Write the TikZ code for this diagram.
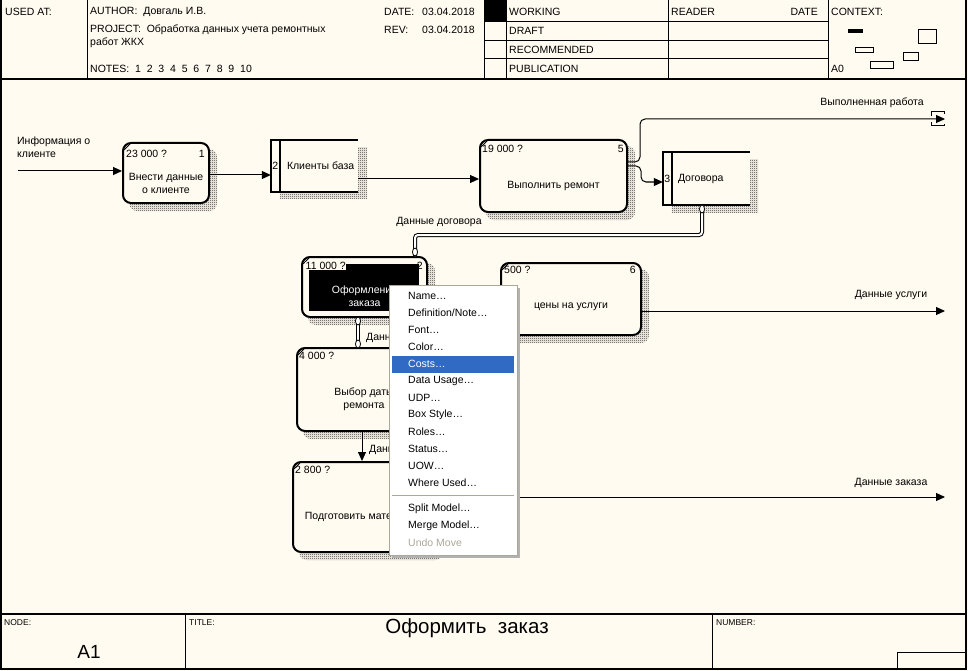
\documentclass[tikz,border=0pt]{standalone}
\usepackage{fontspec}
\setmainfont{Liberation Sans}
\usetikzlibrary{arrows.meta, patterns, backgrounds}

\definecolor{paper}{RGB}{255,251,240}
\definecolor{menusel}{RGB}{49,106,197}
\definecolor{menuline}{RGB}{172,168,153}

\pgfdeclarepatternformonly{finecheck}{\pgfpointorigin}{\pgfqpoint{2pt}{2pt}}{\pgfqpoint{2pt}{2pt}}{%
  \pgfpathrectangle{\pgfpointorigin}{\pgfqpoint{1pt}{1pt}}%
  \pgfpathrectangle{\pgfqpoint{1pt}{1pt}}{\pgfqpoint{1pt}{1pt}}%
  \pgfusepath{fill}}

\tikzset{
  actbox/.style={draw, line width=2pt, rounded corners=8pt, fill=paper, inner sep=0pt},
  store/.style={fill=paper, inner sep=0pt},
  boxshadow/.style={pattern=finecheck, pattern color=black!80, rounded corners=8pt},
  storeshadow/.style={pattern=finecheck, pattern color=black!80},
  flow/.style={-{Triangle[length=9pt,width=8pt]}, line width=1pt},
  dflow/.style={double=white, double distance=2pt, line width=1pt},
  oval/.style={draw, fill=white, line width=0.8pt},
  lbl/.style={inner sep=0pt},
  small/.style={inner sep=0pt, anchor=west, font=\fontsize{8.5}{10}\selectfont},
  menuitem/.style={inner sep=0pt, anchor=west},
}

\begin{document}
\begin{tikzpicture}[x=1pt, y=-1pt, font=\fontsize{10.5}{13}\selectfont]
  \begin{scope}[on background layer]
    \fill[paper] (0,0) rectangle (968,671);
  \end{scope}
  \useasboundingbox (0,0) rectangle (968,671);

  % Frame
  \draw[line width=1.5pt] (1,0) -- (1,669) -- (966,669) -- (966,0);
  \draw[line width=1.5pt] (1,79) -- (966,79);
  \draw[line width=1.5pt] (1,614) -- (966,614);

  % Header
  \draw[line width=1pt] (87,0) -- (87,79);
  \draw[line width=1pt] (484,0) -- (484,79);
  \draw[line width=1pt] (506,0) -- (506,79);
  \draw[line width=1pt] (668,0) -- (668,79);
  \draw[line width=1pt] (828,0) -- (828,79);
  \draw[line width=1pt] (484,22) -- (828,22);
  \draw[line width=1pt] (484,41) -- (828,41);
  \draw[line width=1pt] (484,59) -- (828,59);
  \fill (484,0) rectangle (506,22);
  \node (usedat) [lbl, anchor=west] at (5,12) {USED AT:};
  \node (author) [lbl, anchor=west] at (90,12) {AUTHOR:\ \ Довгаль И.В.};
  \node (project) [lbl, anchor=west] at (90,30) {PROJECT:\ \ Обработка данных учета ремонтных};
  \node (project2) [lbl, anchor=west] at (90,43) {работ ЖКХ};
  \node (notes) [lbl, anchor=west] at (90,69) {NOTES:\ \ 1\ \ 2\ \ 3\ \ 4\ \ 5\ \ 6\ \ 7\ \ 8\ \ 9\ \ 10};
  \node (date) [lbl, anchor=west] at (384,12) {DATE:};
  \node (datev) [lbl, anchor=west] at (422,12) {03.04.2018};
  \node (rev) [lbl, anchor=west] at (384,30) {REV:};
  \node (revv) [lbl, anchor=west] at (422,30) {03.04.2018};
  \node (working) [lbl, anchor=west] at (509,12) {WORKING};
  \node (draft) [lbl, anchor=west] at (509,31) {DRAFT};
  \node (recommended) [lbl, anchor=west] at (509,50) {RECOMMENDED};
  \node (publication) [lbl, anchor=west] at (509,69) {PUBLICATION};
  \node (reader) [lbl, anchor=west] at (671,12) {READER};
  \node (readerdate) [lbl, anchor=east] at (818,12) {DATE};
  \node (context) [lbl, anchor=west] at (831,12) {CONTEXT:};
  \node (ctxnode) [lbl, anchor=west] at (831,69) {A0};
  \fill (848,29) rectangle (863,33);
  \draw[line width=1pt] (918,30) rectangle (936,44);
  \draw[line width=1pt] (855,48) rectangle (873,53);
  \draw[line width=1pt] (903,53) rectangle (918,61);
  \draw[line width=1pt] (870,62) rectangle (893,69);

  % Footer
  \draw[line width=1pt] (185,614) -- (185,669);
  \draw[line width=1pt] (712,614) -- (712,669);
  \draw[line width=1pt] (897,669) -- (897,652) -- (966,652);
  \node (nodelbl) [small] at (4,623) {NODE:};
  \node (nodeval) [lbl, font=\fontsize{19}{21}\selectfont] at (89,652) {A1};
  \node (titlelbl) [small] at (189,623) {TITLE:};
  \node (titleval) [lbl, font=\fontsize{20.5}{22}\selectfont] at (467,628) {Оформить\ \ заказ};
  \node (numberlbl) [small] at (716,623) {NUMBER:};

  % Activity boxes
  \node (b1) [actbox, minimum width=86pt, minimum height=60pt] at (166,173) {};
  \node (b5) [actbox, minimum width=147pt, minimum height=72pt] at (553.5,176) {};
  \node (b2) [actbox, minimum width=125pt, minimum height=60pt] at (364.5,287) {};
  \node (b6) [actbox, minimum width=140pt, minimum height=72pt] at (571,299) {};
  \node (b3) [actbox, minimum width=134pt, minimum height=83pt] at (364,389.5) {};
  \node (b4) [actbox, minimum width=142pt, minimum height=90pt] at (364,507) {};
  \foreach \b in {b1,b5,b2,b6,b3,b4}
    \draw[line width=1pt] ([shift={(2pt,-8pt)}]\b.north west) -- ([shift={(8pt,-2pt)}]\b.north west);

  \fill ([shift={(8pt,-8pt)}]b2.north west) rectangle ([shift={(-9pt,7pt)}]b2.south east);

  \node (b1c) [lbl, anchor=west] at ([shift={(4pt,-12pt)}]b1.north west) {23 000 ?};
  \node (b1n) [lbl, anchor=east] at ([shift={(-5pt,-12pt)}]b1.north east) {1};
  \node (b1t) [lbl, align=center] at ([yshift=-10pt]b1.center) {Внести данные\\о клиенте};
  \node (b5c) [lbl, anchor=west] at ([shift={(3pt,-10pt)}]b5.north west) {19 000 ?};
  \node (b5n) [lbl, anchor=east] at ([shift={(-4pt,-10pt)}]b5.north east) {5};
  \node (b5t) [lbl] at ([yshift=-10pt]b5.center) {Выполнить ремонт};
  \node (b2c) [lbl, anchor=west, fill=paper, inner sep=0.5pt] at ([shift={(4pt,-10pt)}]b2.north west) {11 000 ?};
  \node (b2n) [lbl, anchor=east] at ([shift={(-5pt,-10pt)}]b2.north east) {2};
  \node (b2t) [lbl, align=center, text=white] at ([yshift=-9.5pt]b2.center) {Оформление\\заказа};
  \node (b6c) [lbl, anchor=west] at ([shift={(4pt,-8pt)}]b6.north west) {500 ?};
  \node (b6n) [lbl, anchor=east] at ([shift={(-6pt,-8pt)}]b6.north east) {6};
  \node (b6t) [lbl] at ([yshift=-8pt]b6.center) {цены на услуги};
  \node (b3c) [lbl, anchor=west] at ([shift={(3pt,-9pt)}]b3.north west) {4 000 ?};
  \node (b3t) [lbl, align=center] at ([yshift=-10pt]b3.center) {Выбор даты\\ремонта};
  \node (b4c) [lbl, anchor=west] at ([shift={(3pt,-9pt)}]b4.north west) {2 800 ?};
  \node (b4t) [lbl] at ([yshift=-10pt]b4.center) {Подготовить материалы};

  % Data stores
  \node (s2) [store, minimum width=87pt, minimum height=52pt] at (314.5,166) {};
  \draw[line width=1.5pt] (s2.north east) -- (s2.north west) -- (s2.south west) -- (s2.south east);
  \draw[line width=2pt] ([xshift=9pt]s2.north west) -- ([xshift=9pt]s2.south west);
  \node (s2n) [lbl] at ([xshift=4.5pt]s2.west) {2};
  \node (s2t) [lbl, anchor=west] at ([xshift=16pt]s2.west) {Клиенты база};
  \node (s3) [store, minimum width=87pt, minimum height=53pt] at (706.5,178.5) {};
  \draw[line width=1.5pt] (s3.north east) -- (s3.north west) -- (s3.south west) -- (s3.south east);
  \draw[line width=2pt] ([xshift=9pt]s3.north west) -- ([xshift=9pt]s3.south west);
  \node (s3n) [lbl] at ([xshift=4.5pt]s3.west) {3};
  \node (s3t) [lbl, anchor=west] at ([xshift=15pt]s3.west) {Договора};

  % Shadows
  \begin{scope}[on background layer]
    \foreach \b in {b1,b5,b2,b6,b3,b4}
      \path[boxshadow] ([shift={(7pt,-7pt)}]\b.north west) rectangle ([shift={(7pt,-7pt)}]\b.south east);
    \path[storeshadow] ([shift={(9pt,-8pt)}]s2.north west) rectangle ([shift={(9pt,-6pt)}]s2.south east);
    \path[storeshadow] ([shift={(9pt,-8pt)}]s3.north west) rectangle ([shift={(8pt,-7pt)}]s3.south east);
  \end{scope}

  % Arrows
  \coordinate (inpt) at (18,171);
  \coordinate (out5) at (945,119);
  \coordinate (out6) at (945,311);
  \coordinate (out4) at (945,497);
  \draw[flow] (inpt) -- (inpt -| b1.west);
  \draw[flow] ([yshift=-2pt]b1.east) -- ([yshift=-2pt]b1.east -| s2.west);
  \draw[flow] ([yshift=-13pt]s2.east) -- ([yshift=-13pt]s2.east -| b5.west);
  \draw[flow, rounded corners=5pt] ([yshift=14pt]b5.east) -- (640,162) -- (640,119) -- (out5);
  \draw[flow, rounded corners=5pt] ([yshift=10pt]b5.east) -- (641,166) -- (641,182) -- ([yshift=-3.5pt]s3.west);
  \draw[dflow, rounded corners=3pt] ([xshift=-4.5pt]s3.south) -- (702,235) -- (415,235) -- ([xshift=50.5pt]b2.north);
  \draw[dflow] ([xshift=-6.5pt]b2.south) -- ([xshift=-6.5pt]b2.south |- b3.north);
  \draw[flow] ([xshift=-2pt]b3.south) -- ([xshift=-2pt]b3.south |- b4.north);
  \draw[flow] ([yshift=-12pt]b6.east) -- (out6);
  \draw[flow] ([yshift=10pt]b4.east) -- (out4);
  \draw[oval] (415,252) ellipse [x radius=2.5, y radius=4];
  \draw[oval] (702,209) ellipse [x radius=2.5, y radius=4];
  \draw[oval] (358,321) ellipse [x radius=2.5, y radius=4];
  \draw[oval] (358,344) ellipse [x radius=2.5, y radius=4];
  \draw[line width=1pt] (931,116) -- (931,112) -- (944,112) -- (944,114);
  \draw[line width=1pt] (931,122) -- (931,126) -- (944,126) -- (944,124);

  % Arrow labels
  \node (l_info) [lbl, anchor=north west, align=left] at (17,137) {Информация о\\клиенте};
  \node (l_dog) [lbl] at (439,222) {Данные договора};
  \node (l_done) [lbl] at (872,103) {Выполненная работа};
  \node (l_serv) [lbl] at (891,295) {Данные услуги};
  \node (l_order) [lbl] at (891,483) {Данные заказа};
  \node (l_b23) [lbl, anchor=west] at (366,338) {Данные};
  \node (l_b34) [lbl, anchor=west] at (369,450) {Данные};

  % Context menu
  \fill[black!30] (392,288) rectangle (520,558);
  \node (menu) [draw=menuline, fill=white, line width=1pt, minimum width=128pt, minimum height=270pt, inner sep=0pt] at (453,420) {};
  \fill[menusel] (392,356) rectangle (514,373);
  \node (m_name) [menuitem] at (408,296) {Name…};
  \node (m_def) [menuitem] at (408,313) {Definition/Note…};
  \node (m_font) [menuitem] at (408,330) {Font…};
  \node (m_color) [menuitem] at (408,347) {Color…};
  \node (m_costs) [menuitem, text=white] at (408,364) {Costs…};
  \node (m_usage) [menuitem] at (408,381) {Data Usage…};
  \node (m_udp) [menuitem] at (408,398) {UDP…};
  \node (m_style) [menuitem] at (408,415) {Box Style…};
  \node (m_roles) [menuitem] at (408,432) {Roles…};
  \node (m_status) [menuitem] at (408,449) {Status…};
  \node (m_uow) [menuitem] at (408,466) {UOW…};
  \node (m_where) [menuitem] at (408,483) {Where Used…};
  \draw[menuline, line width=1pt] (392,495) -- (514,495);
  \node (m_split) [menuitem] at (408,509) {Split Model…};
  \node (m_merge) [menuitem] at (408,526) {Merge Model…};
  \node (m_undo) [menuitem, text=menuline] at (408,543) {Undo Move};
\end{tikzpicture}
\end{document}
